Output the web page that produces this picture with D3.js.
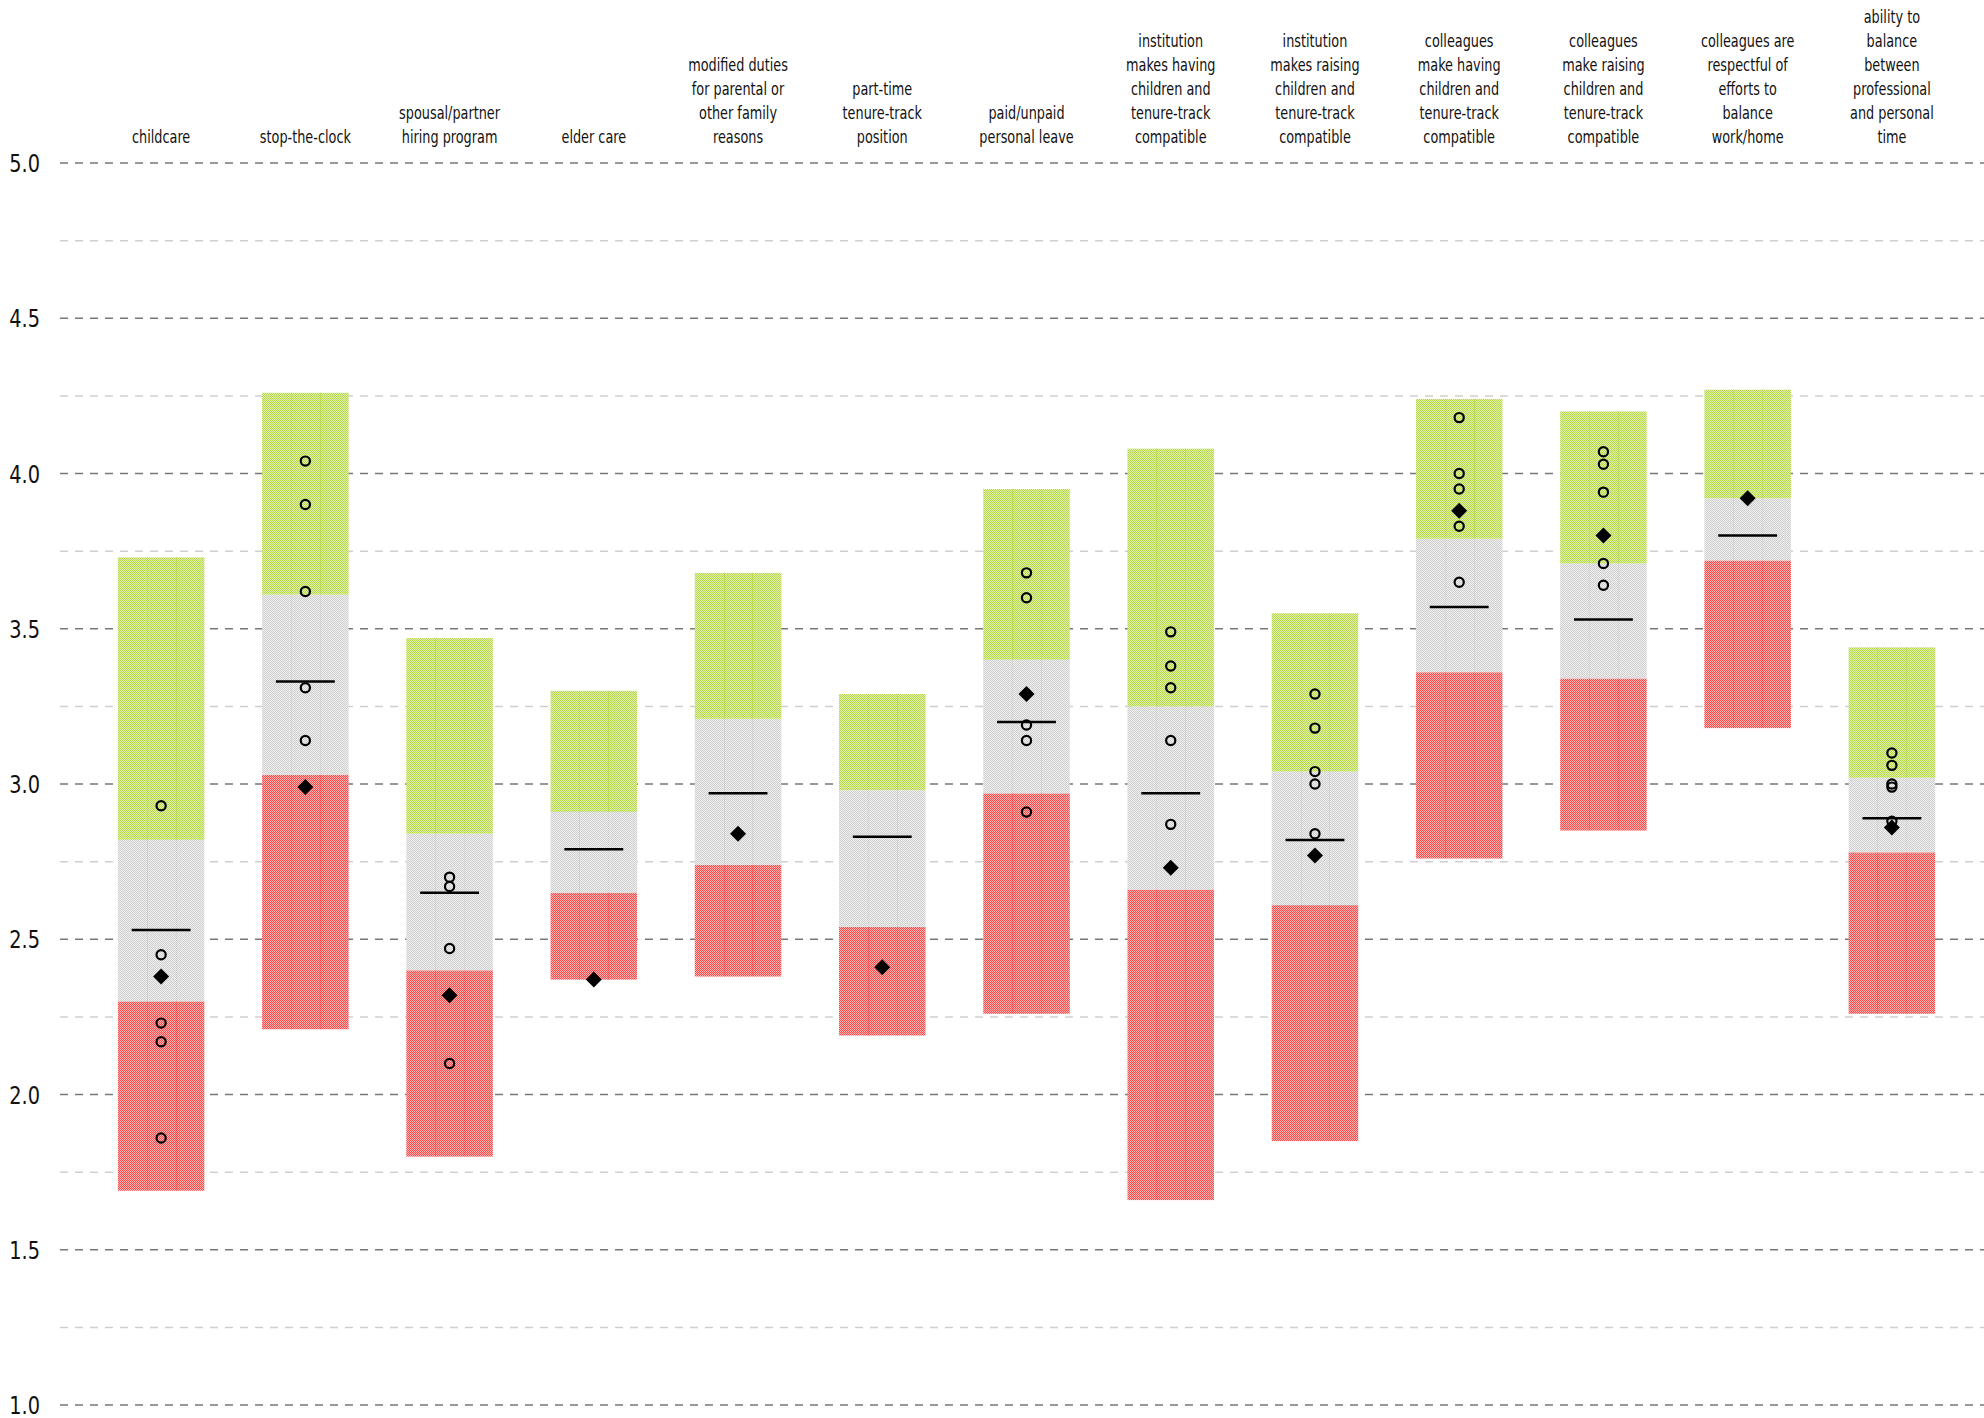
<!DOCTYPE html>
<html>
<head>
<meta charset="utf-8">
<style>
  body { margin: 0; background: #fff; }
  svg text { font-family: "DejaVu Sans Condensed", "Liberation Sans Narrow", sans-serif; font-stretch: condensed; fill: #111; }
</style>
</head>
<body>
<script src="https://cdn.jsdelivr.net/npm/d3@7"></script>
<script>

// *** DATA ***

var categories = [
  ["childcare"],
  ["stop-the-clock"],
  ["spousal/partner", "hiring program"],
  ["elder care"],
  ["modified duties", "for parental or", "other family", "reasons"],
  ["part-time", "tenure-track", "position"],
  ["paid/unpaid", "personal leave"],
  ["institution", "makes having", "children and", "tenure-track", "compatible"],
  ["institution", "makes raising", "children and", "tenure-track", "compatible"],
  ["colleagues", "make having", "children and", "tenure-track", "compatible"],
  ["colleagues", "make raising", "children and", "tenure-track", "compatible"],
  ["colleagues are", "respectful of", "efforts to", "balance", "work/home"],
  ["ability to", "balance", "between", "professional", "and personal", "time"]
];

// band edges: bottom of red, red/gray, gray/green, top of green
var lowVals  = [1.69, 2.21, 1.80, 2.37, 2.38, 2.19, 2.26, 1.66, 1.85, 2.76, 2.85, 3.18, 2.26];
var q1Vals   = [2.30, 3.03, 2.40, 2.65, 2.74, 2.54, 2.97, 2.66, 2.61, 3.36, 3.34, 3.72, 2.78];
var q3Vals   = [2.82, 3.61, 2.84, 2.91, 3.21, 2.98, 3.40, 3.25, 3.04, 3.79, 3.71, 3.92, 3.02];
var highVals = [3.73, 4.26, 3.47, 3.30, 3.68, 3.29, 3.95, 4.08, 3.55, 4.24, 4.20, 4.27, 3.44];

var medianVals  = [2.53, 3.33, 2.65, 2.79, 2.97, 2.83, 3.20, 2.97, 2.82, 3.57, 3.53, 3.80, 2.89];
var diamondVals = [2.38, 2.99, 2.32, 2.37, 2.84, 2.41, 3.29, 2.73, 2.77, 3.88, 3.80, 3.92, 2.86];

var circleVals = [
  [2.93, 2.45, 2.23, 2.17, 1.86],
  [4.04, 3.90, 3.62, 3.31, 3.14],
  [2.70, 2.67, 2.47, 2.10],
  [],
  [],
  [],
  [3.68, 3.60, 3.19, 3.14, 2.91],
  [3.49, 3.38, 3.31, 3.14, 2.87],
  [3.29, 3.18, 3.04, 3.00, 2.84],
  [4.18, 4.00, 3.95, 3.83, 3.65],
  [4.07, 4.03, 3.94, 3.71, 3.64],
  [],
  [3.10, 3.06, 3.00, 2.99, 2.88]
];

var yTicks = [1.0, 1.5, 2.0, 2.5, 3.0, 3.5, 4.0, 4.5, 5.0];
var yMinor = [1.25, 1.75, 2.25, 2.75, 3.25, 3.75, 4.25, 4.75];

// *** LAYOUT ***

var width = 1984, height = 1418;

var svg = d3.select("body").append("svg")
  .attr("width", width)
  .attr("height", height);

var idx = d3.range(categories.length);

var x = d3.scaleBand()
  .domain(idx)
  .range([89, 1964])
  .paddingInner(0.4)
  .paddingOuter(0.2);

var y = d3.scaleLinear()
  .domain([1, 5])
  .range([1405, 163]);

// checkerboard patterns for the three bands
var defs = svg.append("defs");
var fills = {
  red:   {a: "#ff4a4a", b: "#ffb4b4", line: "#ff2020"},
  gray:  {a: "#cfcfcf", b: "#efefef", line: "#bdbdbd"},
  green: {a: "#b6d948", b: "#e1f0ad", line: "#9cc81a"}
};
Object.keys(fills).forEach(function(k){
  var p = defs.append("pattern")
    .attr("id", "pat-" + k)
    .attr("patternUnits", "userSpaceOnUse")
    .attr("width", 2).attr("height", 2);
  p.append("rect").attr("width", 2).attr("height", 2).attr("fill", fills[k].b);
  p.append("rect").attr("width", 1).attr("height", 1).attr("fill", fills[k].a);
  p.append("rect").attr("x", 1).attr("y", 1).attr("width", 1).attr("height", 1).attr("fill", fills[k].a);
});

// *** GRID ***

var grid = svg.append("g");

grid.selectAll("line.minor").data(yMinor).enter().append("line")
  .attr("x1", 60).attr("x2", width)
  .attr("y1", function(d){ return y(d); })
  .attr("y2", function(d){ return y(d); })
  .style("stroke", "#cfcfcf")
  .style("stroke-width", 1.5)
  .style("stroke-dasharray", "8,7");

grid.selectAll("line.major").data(yTicks).enter().append("line")
  .attr("x1", 60).attr("x2", width)
  .attr("y1", function(d){ return y(d); })
  .attr("y2", function(d){ return y(d); })
  .style("stroke", "#777")
  .style("stroke-width", 1.5)
  .style("stroke-dasharray", "8,7");

grid.selectAll("text").data(yTicks).enter().append("text")
  .attr("transform", function(d){ return "translate(40," + y(d) + ") scale(0.86,1)"; })
  .attr("dy", "0.36em")
  .attr("text-anchor", "end")
  .style("font-size", "25px")
  .text(d3.format(".1f"));

// *** BARS ***

var bars = svg.append("g");

idx.forEach(function(i){
  var bx = x(i), bw = x.bandwidth();
  var segs = [
    {k: "red",   lo: lowVals[i], hi: q1Vals[i]},
    {k: "gray",  lo: q1Vals[i],  hi: q3Vals[i]},
    {k: "green", lo: q3Vals[i],  hi: highVals[i]}
  ];
  segs.forEach(function(s){
    bars.append("rect")
      .attr("x", bx)
      .attr("y", y(s.hi))
      .attr("width", bw)
      .attr("height", y(s.lo) - y(s.hi))
      .attr("fill", "url(#pat-" + s.k + ")");
    // faint dotted streaks inside the bars
    [1/3, 2/3].forEach(function(f){
      bars.append("line")
        .attr("x1", Math.round(bx + bw * f) + 0.5)
        .attr("x2", Math.round(bx + bw * f) + 0.5)
        .attr("y1", y(s.hi)).attr("y2", y(s.lo))
        .style("stroke", fills[s.k].line)
        .style("stroke-width", 1)
        .style("stroke-dasharray", "1,1")
        .style("opacity", 0.5);
    });
  });
});

// median lines
svg.append("g").selectAll("line").data(idx).enter().append("line")
  .attr("x1", function(i){ return x(i) + x.bandwidth() * 0.16; })
  .attr("x2", function(i){ return x(i) + x.bandwidth() * 0.84; })
  .attr("y1", function(i){ return y(medianVals[i]); })
  .attr("y2", function(i){ return y(medianVals[i]); })
  .style("stroke", "#000")
  .style("stroke-width", 2.5);

// open circles
var circData = [];
idx.forEach(function(i){
  circleVals[i].forEach(function(v){ circData.push({i: i, v: v}); });
});
svg.append("g").selectAll("circle").data(circData).enter().append("circle")
  .attr("cx", function(d){ return x(d.i) + x.bandwidth() / 2; })
  .attr("cy", function(d){ return y(d.v); })
  .attr("r", 4.6)
  .style("fill", "none")
  .style("stroke", "#000")
  .style("stroke-width", 2.2);

// diamonds
var diamond = d3.symbol().type(d3.symbolSquare).size(128);
svg.append("g").selectAll("path").data(idx).enter().append("path")
  .attr("d", diamond)
  .attr("transform", function(i){
    return "translate(" + (x(i) + x.bandwidth() / 2) + "," + y(diamondVals[i]) + ") rotate(45)";
  })
  .style("fill", "#000");

// *** CATEGORY LABELS ***

var lab = svg.append("g").selectAll("text").data(idx).enter().append("text")
  .attr("transform", function(i){ return "translate(" + (x(i) + x.bandwidth() / 2) + ",0) scale(0.84,1)"; })
  .attr("text-anchor", "middle")
  .style("font-size", "17px");

lab.each(function(i){
  var lines = categories[i];
  var t = d3.select(this);
  lines.forEach(function(s, j){
    t.append("tspan")
      .attr("x", 0)
      .attr("y", 143 - (lines.length - 1 - j) * 24)
      .text(s);
  });
});

</script>
</body>
</html>
